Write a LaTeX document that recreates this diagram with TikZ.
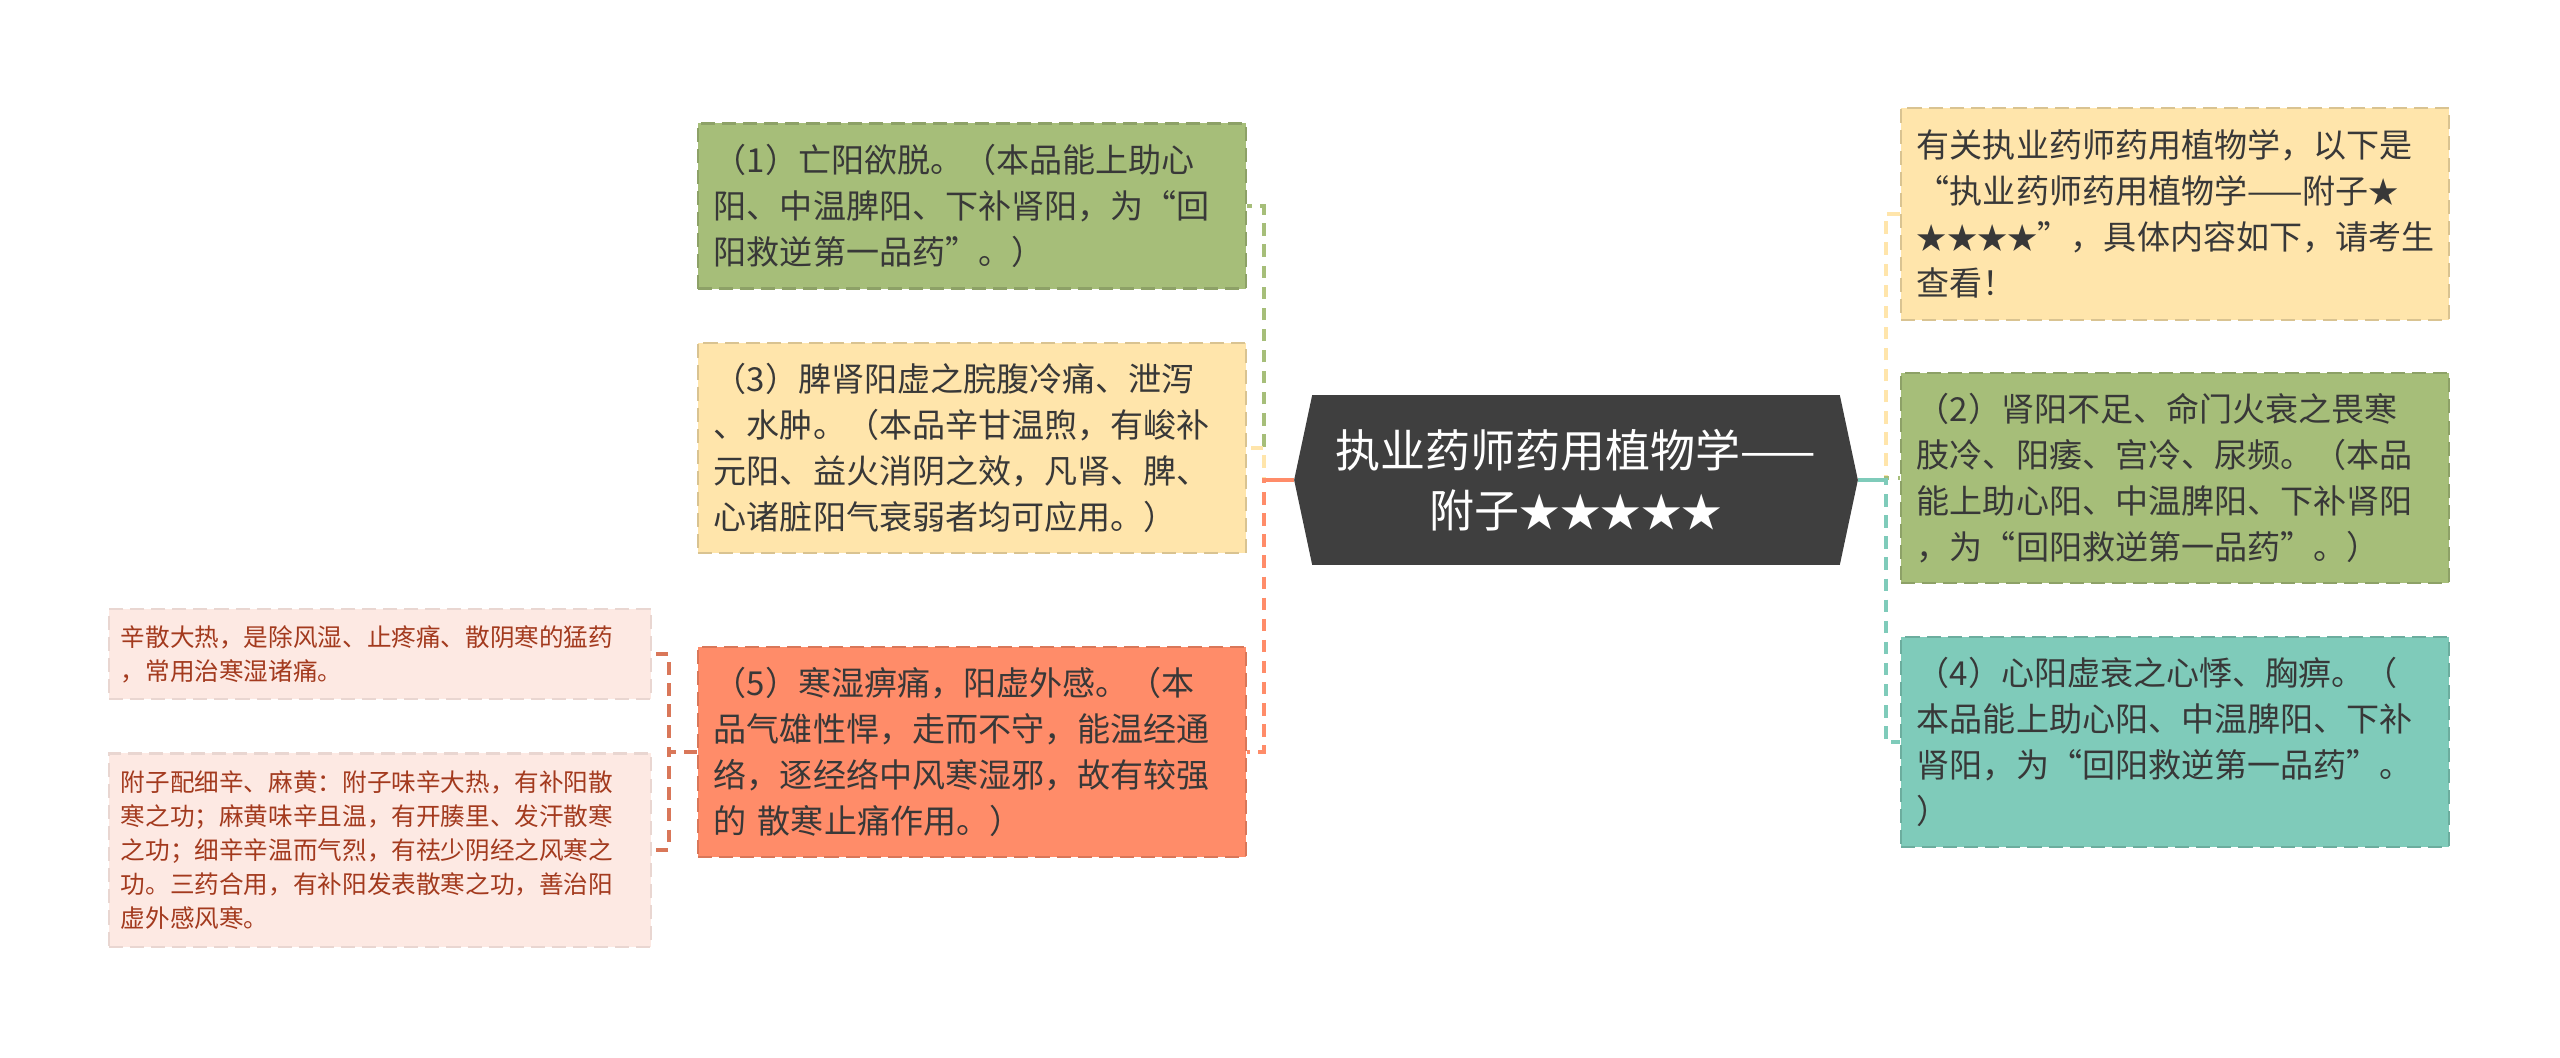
\documentclass[tikz,border=0pt]{standalone}
\usepackage{fontspec}
\newfontfamily\cjk{Noto Sans CJK SC}
\usetikzlibrary{backgrounds}
\definecolor{yanggreen}{HTML}{A6BE79}
\definecolor{yangyellow}{HTML}{FFE5AB}
\definecolor{yangorange}{HTML}{FF8C69}
\definecolor{yangteal}{HTML}{7FCBBA}
\definecolor{leafpink}{HTML}{FDE9E3}
\definecolor{leafred}{HTML}{A33A1E}
\definecolor{hubgray}{HTML}{3F3F3F}
\definecolor{inkgray}{HTML}{383838}
\tikzset{
    topic/.style={fill=#1, draw=#1!85!black, dash pattern=on 4pt off 2pt,
        line width=0.6pt, text=inkgray, align=left, inner xsep=0.16cm,
        inner ysep=0pt, text width=5.16cm,
        font=\cjk\fontsize{9.4pt}{13.1pt}\selectfont},
    leaf/.style={fill=leafpink, draw=leafpink!92!black, dash pattern=on 4pt off 2pt,
        line width=0.6pt, text=leafred, align=left, inner xsep=0.12cm,
        inner ysep=0pt, text width=5.18cm,
        font=\cjk\fontsize{7pt}{9.7pt}\selectfont},
    hubbox/.style={minimum width=5.26cm, minimum height=1.68cm, text=white,
        align=center, font=\cjk\fontsize{12.8pt}{17pt}\selectfont},
    link/.style={line width=1pt, dash pattern=on 3.5pt off 2.5pt},
}
\newcommand{\fivestars}{{\fontsize{11.5pt}{17pt}\selectfont★★★★★}}

\begin{document}
\begin{tikzpicture}[x=0.01cm, y=-0.01cm]
    \useasboundingbox (0,0) rectangle (2560,1058);
    \node[hubbox] (hub) at (1576,480) {执业药师药用植物学——\\附子\fivestars};
    \coordinate (hubL) at ([xshift=-0.18cm]hub.west);
    \coordinate (hubR) at ([xshift=0.18cm]hub.east);
    \begin{scope}[on background layer]
        \fill[hubgray] (hub.north west) -- (hub.north east) -- (hubR)
            -- (hub.south east) -- (hub.south west) -- (hubL) -- cycle;
    \end{scope}

    \node[topic=yanggreen, minimum height=1.65cm] (yang1) at (972,206)
        {（1）亡阳欲脱。（本品能上助心\\阳、中温脾阳、下补肾阳，为“回\\阳救逆第一品药”。）};
    \node[topic=yangyellow, minimum height=2.10cm] (yang3) at (972,448)
        {（3）脾肾阳虚之脘腹冷痛、泄泻\\、水肿。（本品辛甘温煦，有峻补\\元阳、益火消阴之效，凡肾、脾、\\心诸脏阳气衰弱者均可应用。）};
    \node[topic=yangorange, minimum height=2.09cm] (yang5) at (972,752)
        {（5）寒湿痹痛，阳虚外感。（本\\品气雄性悍，走而不守，能温经通\\络，逐经络中风寒湿邪，故有较强\\的 散寒止痛作用。）};
    \node[leaf, minimum height=0.90cm] (xinsan) at (380,654)
        {辛散大热，是除风湿、止疼痛、散阴寒的猛药\\，常用治寒湿诸痛。};
    \node[leaf, minimum height=1.93cm] (peiwu) at (380,850)
        {附子配细辛、麻黄：附子味辛大热，有补阳散\\寒之功；麻黄味辛且温，有开腠里、发汗散寒\\之功；细辛辛温而气烈，有祛少阴经之风寒之\\功。三药合用，有补阳发表散寒之功，善治阳\\虚外感风寒。};

    \node[topic=yangyellow, minimum height=2.11cm] (intro) at (2175,214)
        {有关执业药师药用植物学，以下是\\“执业药师药用植物学——附子{\fontsize{8.6pt}{13.1pt}\selectfont★}\\{\fontsize{8.6pt}{13.1pt}\selectfont★★★★}”，具体内容如下，请考生\\查看！};
    \node[topic=yanggreen, minimum height=2.09cm] (yang2) at (2175,478)
        {（2）肾阳不足、命门火衰之畏寒\\肢冷、阳痿、宫冷、尿频。（本品\\能上助心阳、中温脾阳、下补肾阳\\，为“回阳救逆第一品药”。）};
    \node[topic=yangteal, minimum height=2.09cm] (yang4) at (2175,742)
        {（4）心阳虚衰之心悸、胸痹。（\\本品能上助心阳、中温脾阳、下补\\肾阳，为“回阳救逆第一品药”。\\）};

    \foreach \kid/\col in {yang1/yanggreen, yang3/yangyellow, yang5/yangorange}{
        \draw[link, \col] (hubL) -- ++(-30,0) |- (\kid.east);
        \draw[line width=1pt, \col] (hubL) -- ++(-30,0);
    }
    \foreach \kid/\col in {intro/yangyellow, yang2/yanggreen, yang4/yangteal}{
        \draw[link, \col] (hubR) -- ++(28,0) |- (\kid.west);
        \draw[line width=1pt, \col] (hubR) -- ++(28,0);
    }
    \foreach \kid in {xinsan, peiwu}
        \draw[link, yangorange!85!black] (yang5.west) -- ++(-28,0) |- (\kid.east);
\end{tikzpicture}
\end{document}
